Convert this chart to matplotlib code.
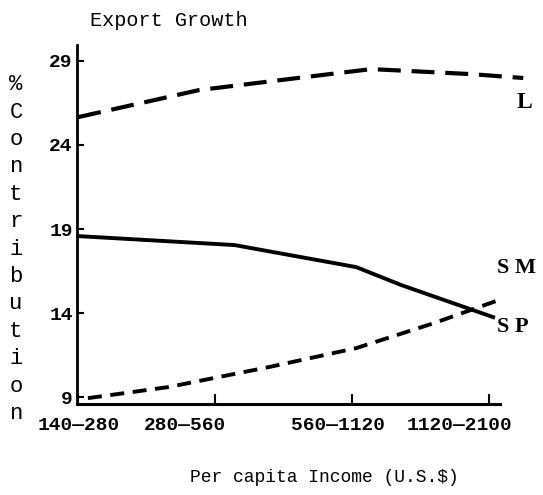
import matplotlib
matplotlib.use("Agg")
import matplotlib.pyplot as plt
import matplotlib.transforms as mtransforms

# values (x in category units, 0 = first income band)
income_bands = ["140\u2014280", "280\u2014560", "560\u20141120", "1120\u20142100"]
yticks = [9, 14, 19, 24, 29]

l_x = [0.0, 0.88, 1.48, 2.14, 2.87, 3.25]
l_y = [25.65, 27.25, 27.85, 28.5, 28.2, 27.97]

sm_x = [0.0, 1.14, 2.03, 2.36, 3.03]
sm_y = [18.58, 18.05, 16.74, 15.67, 13.77]

sp_x = [0.07, 0.66, 1.39, 2.03, 2.6, 3.07]
sp_y = [8.96, 9.62, 10.8, 11.93, 13.42, 14.78]

mono = "Liberation Mono"
serif = "Liberation Serif"

fig = plt.figure(figsize=(5.43, 4.95), dpi=100)
ax = fig.add_axes([0.1418, 0.1838, 0.779, 0.7253])

ax.plot(l_x, l_y, color="black", lw=3.0, dashes=(5.5, 2.6), clip_on=False)
ax.plot(sm_x, sm_y, color="black", lw=2.8, clip_on=False)
ax.plot(sp_x, sp_y, color="black", lw=2.8, dashes=(3.6, 2.2), clip_on=False)

ax.set_xlim(-0.01, 3.08)
ax.set_ylim(8.61, 29.93)

ax.spines["top"].set_visible(False)
ax.spines["right"].set_visible(False)
ax.spines["left"].set_linewidth(2.0)
ax.spines["bottom"].set_linewidth(2.2)

ax.set_xticks(range(len(income_bands)))
ax.set_xticklabels(income_bands, fontfamily=mono, fontsize=14, fontweight="bold")
ax.set_yticks(yticks)
ax.set_yticklabels([str(v) for v in yticks], fontfamily=mono, fontsize=14, fontweight="bold")
ax.tick_params(axis="x", direction="in", length=7, width=1.5, pad=9)
ax.tick_params(axis="y", direction="in", length=5, width=1.5, pad=3)

# the scanned tick labels sit a bit left of their ticks
shifts = [0, -30, -14, -30]
for lab, dx in zip(ax.get_xticklabels(), shifts):
    lab.set_transform(lab.get_transform() + mtransforms.ScaledTranslation(dx / 100, 0, fig.dpi_scale_trans))

# series labels
ax.text(3.2, 26.5, "L", fontfamily=serif, fontsize=17, fontweight="bold",
        ha="left", va="center", clip_on=False)
ax.text(3.06, 16.7, "S M", fontfamily=serif, fontsize=16, fontweight="bold",
        ha="left", va="center", clip_on=False)
ax.text(3.06, 13.2, "S P", fontfamily=serif, fontsize=16, fontweight="bold",
        ha="left", va="center", clip_on=False)

fig.text(169 / 543, 1 - 20 / 495, "Export Growth", fontfamily=mono, fontsize=14.5,
         ha="center", va="center")
fig.text(324 / 543, 1 - 478 / 495, "Per capita Income (U.S.$)", fontfamily=mono, fontsize=13,
         ha="center", va="center")
fig.text(16 / 543, 1 - 249 / 495, "\n".join("%Contribution"), fontfamily=mono, fontsize=16,
         ha="center", va="center", linespacing=1.4)

fig.savefig("out.png", dpi=100)
